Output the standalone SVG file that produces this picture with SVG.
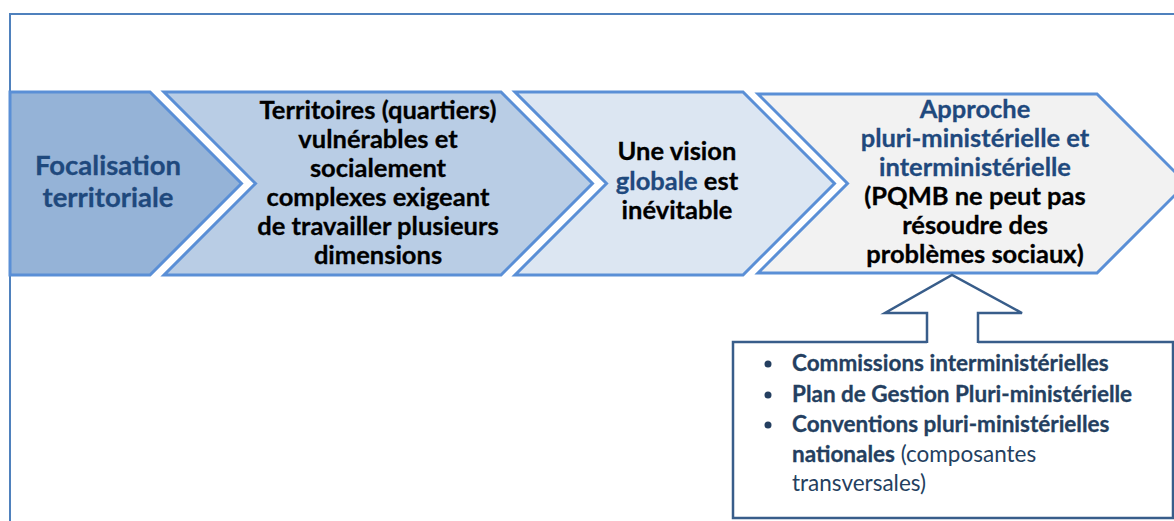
<svg xmlns="http://www.w3.org/2000/svg" width="1174" height="521" viewBox="0 0 1174 521">
<style>
.frame{fill:none;stroke:#4f81bd;stroke-width:2}
.chev{stroke:#5a8fd6;stroke-width:3;stroke-linejoin:miter}
.t{font-family:Lato,"Open Sans",sans-serif;font-weight:bold;font-size:25.5px;text-anchor:middle;fill:#000;stroke:#000;stroke-width:0.3}
.blue{fill:#1f497d;stroke:#1f497d}
.big{font-size:27.5px}
.box{fill:#fff;stroke:#385d8a;stroke-width:2.5}
.bt{font-family:Lato,"Open Sans",sans-serif;font-size:22.5px;fill:#243f60}
.b{font-weight:bold;stroke:#243f60;stroke-width:0.3}
</style>
<rect class="frame" x="10" y="14" width="1200" height="600"/>
<g id="chevron1">
<polygon class="chev" fill="#95b3d7" points="10,92 150,92 241.5,183.5 150,275 10,275"/>
<text class="t blue big" x="108" y="175">Focalisation</text>
<text class="t blue big" x="108" y="207">territoriale</text>
</g>
<g id="chevron2">
<polygon class="chev" fill="#b9cde5" points="164,92 501,92 592.5,183.5 501,275 164,275 255.5,183.5"/>
<text class="t" x="378" y="119">Territoires (quartiers)</text>
<text class="t" x="378" y="148">vulnérables et</text>
<text class="t" x="378" y="177">socialement</text>
<text class="t" x="378" y="206">complexes exigeant</text>
<text class="t" x="378" y="235">de travailler plusieurs</text>
<text class="t" x="378" y="264">dimensions</text>
</g>
<g id="chevron3">
<polygon class="chev" fill="#dce6f2" points="515,92 743,92 834.5,183.5 743,275 515,275 606.5,183.5"/>
<text class="t" x="677" y="160">Une vision</text>
<text class="t" x="677" y="190"><tspan class="blue">globale</tspan> est</text>
<text class="t" x="677" y="219">inévitable</text>
</g>
<g id="chevron4">
<polygon class="chev" fill="#f2f2f2" points="758,94 1097,94 1186.5,183.5 1097,273 758,273 847.5,183.5"/>
<text class="t blue" x="975" y="118">Approche</text>
<text class="t blue" x="975" y="147">pluri-ministérielle et</text>
<text class="t blue" x="975" y="176">interministérielle</text>
<text class="t" x="975" y="205">(PQMB ne peut pas</text>
<text class="t" x="975" y="234">résoudre des</text>
<text class="t" x="975" y="263">problèmes sociaux)</text>
</g>
<g id="connectors">
<polygon id="up-arrow" fill="#fff" stroke="none" points="927,344 927,313 885,313 952,275 1022,313 978,313 978,344"/>
</g>
<g id="box">
<path class="box" fill="#fff" d="M927,342 L733,342 L733,518 L1173,518 L1173,342 L978,342"/>
<polyline fill="none" stroke="#385d8a" stroke-width="2.5" points="927,343 927,313 885,313 952,275 1022,313 978,313 978,343"/>
<circle cx="768" cy="364" r="3.5" fill="#243f60"/>
<circle cx="768" cy="395" r="3.5" fill="#243f60"/>
<circle cx="768" cy="425" r="3.5" fill="#243f60"/>
<text class="bt b" x="792" y="371">Commissions interministérielles</text>
<text class="bt b" x="792" y="402">Plan de Gestion Pluri-ministérielle</text>
<text class="bt b" x="792" y="432">Conventions pluri-ministérielles</text>
<text class="bt" x="792" y="462"><tspan class="b">nationales</tspan> (composantes</text>
<text class="bt" x="792" y="491">transversales)</text>
</g>
</svg>
